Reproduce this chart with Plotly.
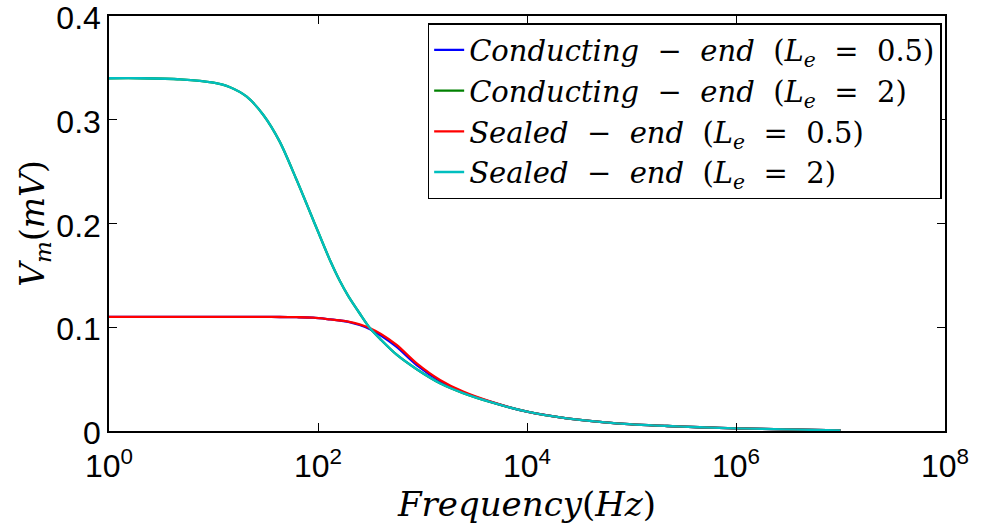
import plotly.graph_objects as go

freq = [1, 2, 4.8, 10, 14.4, 20.8, 30, 43, 62.5, 90, 130, 162, 195, 250, 315, 400, 566,
        880, 1470, 2450, 4430, 1e4, 2.4e4, 7.2e4, 2.2e5, 4.5e5, 1e6, 3e6, 1e7]

tail = [0.0186, 0.0122, 0.0074, 0.0048, 0.0036, 0.0026, 0.0015, 0.0006]

cond_05 = [0.110, 0.110, 0.110, 0.110, 0.110, 0.110, 0.110, 0.1099, 0.1097, 0.1092, 0.1076,
           0.1065, 0.1052, 0.1022, 0.0982, 0.0920, 0.0810, 0.0635, 0.0482, 0.0374, 0.0283] + tail
cond_2 = [0.340, 0.340, 0.339, 0.3357, 0.3313, 0.3222, 0.3046, 0.2789, 0.2419, 0.2034, 0.1648,
          0.1445, 0.1300, 0.1135, 0.0990, 0.0880, 0.0735, 0.0595, 0.0460, 0.0365, 0.0280] + tail
seal_05 = [0.110, 0.110, 0.110, 0.110, 0.110, 0.110, 0.110, 0.1099, 0.1097, 0.1092, 0.1076,
           0.1065, 0.1054, 0.1027, 0.0990, 0.0935, 0.0829, 0.0652, 0.0492, 0.0379, 0.0285] + tail
seal_2 = [0.340, 0.340, 0.339, 0.3357, 0.3313, 0.3222, 0.3046, 0.2789, 0.2419, 0.2034, 0.1648,
          0.1445, 0.1300, 0.1135, 0.0990, 0.0880, 0.0735, 0.0595, 0.0460, 0.0365, 0.0280] + tail

sp = "&nbsp;"
names = [
    f"<i>Conducting</i>{sp} − {sp}<i>end</i>{sp} (<i>L</i><sub><i>e</i></sub>{sp} = {sp}0.5)",
    f"<i>Conducting</i>{sp} − {sp}<i>end</i>{sp} (<i>L</i><sub><i>e</i></sub>{sp} = {sp}2)",
    f"<i>Sealed</i>{sp} − {sp}<i>end</i>{sp} (<i>L</i><sub><i>e</i></sub>{sp} = {sp}0.5)",
    f"<i>Sealed</i>{sp} − {sp}<i>end</i>{sp} (<i>L</i><sub><i>e</i></sub>{sp} = {sp}2)",
]
colors = ["#0000ff", "#008000", "#ff0000", "#00bfbf"]
series = [cond_05, cond_2, seal_05, seal_2]

x_tickvals = [1, 1e2, 1e4, 1e6, 1e8]
x_ticktext = ["10<sup>0</sup>", "10<sup>2</sup>", "10<sup>4</sup>", "10<sup>6</sup>", "10<sup>8</sup>"]
y_tickvals = [0, 0.1, 0.2, 0.3, 0.4]
y_ticktext = ["0", "0.1", "0.2", "0.3", "0.4"]

fig = go.Figure()
for ys, nm, c in zip(series, names, colors):
    fig.add_trace(go.Scatter(x=freq, y=ys, name=nm, mode="lines",
                             line=dict(color=c, width=2.3, shape="spline", smoothing=0.8)))

serif = "DejaVu Serif, Liberation Serif, serif"
sans = "Liberation Sans, Arial, sans-serif"

fig.update_layout(
    width=982, height=525,
    margin=dict(l=109, r=37, t=16, b=94),
    paper_bgcolor="white", plot_bgcolor="white",
    font=dict(family=sans, color="black", size=32),
    legend=dict(x=0.996, y=0.983, xanchor="right", yanchor="top",
                bgcolor="white", bordercolor="black", borderwidth=1.5,
                font=dict(family=serif, size=29, color="black"),
                itemwidth=30, tracegroupgap=0),
    xaxis=dict(type="log", range=[0, 8], tickvals=x_tickvals, ticktext=x_ticktext,
               showgrid=False, zeroline=False, showline=True, linecolor="black",
               linewidth=1.5, mirror="ticks", ticks="inside", ticklen=8,
               tickcolor="black", tickwidth=1, ticklabelstandoff=6,
               ticklabeloverflow="allow", automargin=False,
               tickfont=dict(family=sans, size=32),
               title=dict(text="<i>Frequency</i>(<i>Hz</i>)", standoff=2,
                          font=dict(family=serif, size=34))),
    yaxis=dict(range=[0, 0.4], tickvals=y_tickvals, ticktext=y_ticktext,
               showgrid=False, zeroline=False, showline=True, linecolor="black",
               linewidth=1.5, mirror="ticks", ticks="inside", ticklen=8,
               tickcolor="black", tickwidth=1, ticklabeloverflow="allow",
               ticklabelshift=2, automargin=False,
               tickfont=dict(family=sans, size=32),
               title=dict(text="<i>V</i><sub><i>m</i></sub>(<i>mV</i>)", standoff=2,
                          font=dict(family=serif, size=33))),
)

fig.write_html("out.html")
